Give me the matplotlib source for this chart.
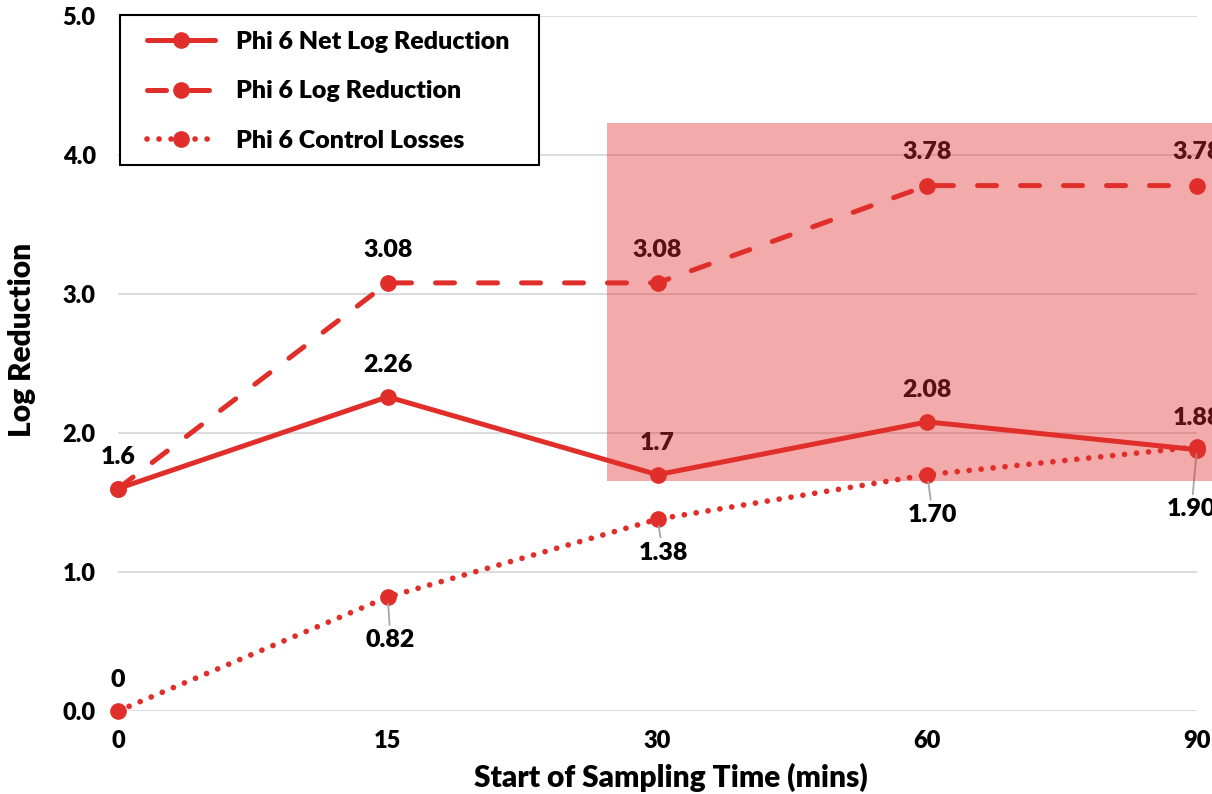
import matplotlib
matplotlib.use("Agg")
import matplotlib.pyplot as plt
from matplotlib.patches import Rectangle

plt.rcParams['font.family'] = ['Lato', 'DejaVu Sans']
plt.rcParams['font.weight'] = 'heavy'
W = 'heavy'

# sampling times (mins) and log reductions for Phi 6
times = ["0", "15", "30", "60", "90"]
net_log_reduction = [1.6, 2.26, 1.7, 2.08, 1.88]
log_reduction = [1.6, 3.08, 3.08, 3.78, 3.78]
control_losses = [0, 0.82, 1.38, 1.70, 1.90]

# offsets (points) of the control-loss labels below their markers
ctrl_offsets = [(0, 22), (2, -31), (4, -24), (4, -29), (-4, -45)]

red = "#E02F2B"
grid_col = "#D9D9D9"

# highlighted window (category index / log units)
hl_x0, hl_x1 = 1.813, 4.06
hl_y0, hl_y1 = 1.655, 4.23

fig = plt.figure(figsize=(12.12, 7.94), dpi=100)
ax = fig.add_axes([118/1212, 1 - 711/794, 1079/1212, 695/794])

x = list(range(len(times)))

ax.plot(x, net_log_reduction, color=red, lw=3.6, marker="o", ms=11,
        solid_capstyle="round", label="Phi 6 Net Log Reduction",
        zorder=3, clip_on=False)
ax.plot(x, log_reduction, color=red, lw=3.6, marker="o", ms=11,
        dashes=(3.8, 4.8), dash_capstyle="round",
        label="Phi 6 Log Reduction", zorder=3, clip_on=False)
ax.plot(x, control_losses, color=red, lw=4.1, marker="o", ms=11,
        dashes=(0.01, 2.1), dash_capstyle="round",
        label="Phi 6 Control Losses", zorder=3, clip_on=False)

lab_kw = dict(ha="center", va="center", fontsize=18, fontweight=W,
              color="black", textcoords="offset points", zorder=4)

# data labels above the points
for i, v in enumerate(net_log_reduction):
    ax.annotate(f"{v:g}", (i, v), xytext=(0, 23), **lab_kw)
for i, v in enumerate(log_reduction):
    if i == 0:
        continue
    ax.annotate(f"{v:g}", (i, v), xytext=(0, 24), **lab_kw)

# control losses: labels below with leader lines (first one above)
for i, v in enumerate(control_losses):
    if v == 0:
        ax.annotate("0", (i, v), xytext=ctrl_offsets[i], **lab_kw)
    else:
        ax.annotate(f"{v:.2f}", (i, v), xytext=ctrl_offsets[i],
                    arrowprops=dict(arrowstyle="-", color="#A6A6A6", lw=1.3,
                                    shrinkA=1, shrinkB=5),
                    **lab_kw)

# shaded window drawn over the lines
ax.add_patch(Rectangle((hl_x0, hl_y0), hl_x1 - hl_x0, hl_y1 - hl_y0,
                       facecolor=red, alpha=0.4, edgecolor="none",
                       zorder=5, clip_on=False))

ax.set_xlim(0, 4)
ax.set_ylim(0, 5)
ax.set_xticks(x)
ax.set_xticklabels(times, fontweight=W)
ax.set_yticks([0, 1, 2, 3, 4, 5])
ax.set_yticklabels([f"{t:.1f}" for t in range(6)], fontweight=W)
ax.tick_params(axis="both", length=0, labelsize=17)
ax.tick_params(axis="x", pad=14)
ax.tick_params(axis="y", pad=16)

ax.grid(axis="y", color=grid_col, lw=1.3, zorder=0)
ax.set_axisbelow(True)
for s in ax.spines.values():
    s.set_visible(False)

ax.set_xlabel("Start of Sampling Time (mins)", fontsize=21.5, fontweight=W,
              va="center")
ax.xaxis.set_label_coords(0.5125, -0.095)
ax.set_ylabel("Log Reduction", fontsize=21.5, fontweight=W, va="center")
ax.yaxis.set_label_coords(-0.089, 0.534)

# legend box: white frame with black border, entries placed inside it
ax.add_patch(Rectangle((2/1079, (711-165)/695), 419/1079, 150/695,
                       transform=ax.transAxes, facecolor="white",
                       edgecolor="black", lw=1.5, zorder=6, clip_on=False))
leg = ax.legend(loc="upper left", bbox_to_anchor=(29/1079, (711-31)/695),
                fontsize=18, frameon=False,
                handlelength=2.7, handletextpad=0.85, labelspacing=1.1,
                borderpad=0.0, borderaxespad=0.0)
leg.set_zorder(7)

fig.savefig("out.png", dpi=100)
